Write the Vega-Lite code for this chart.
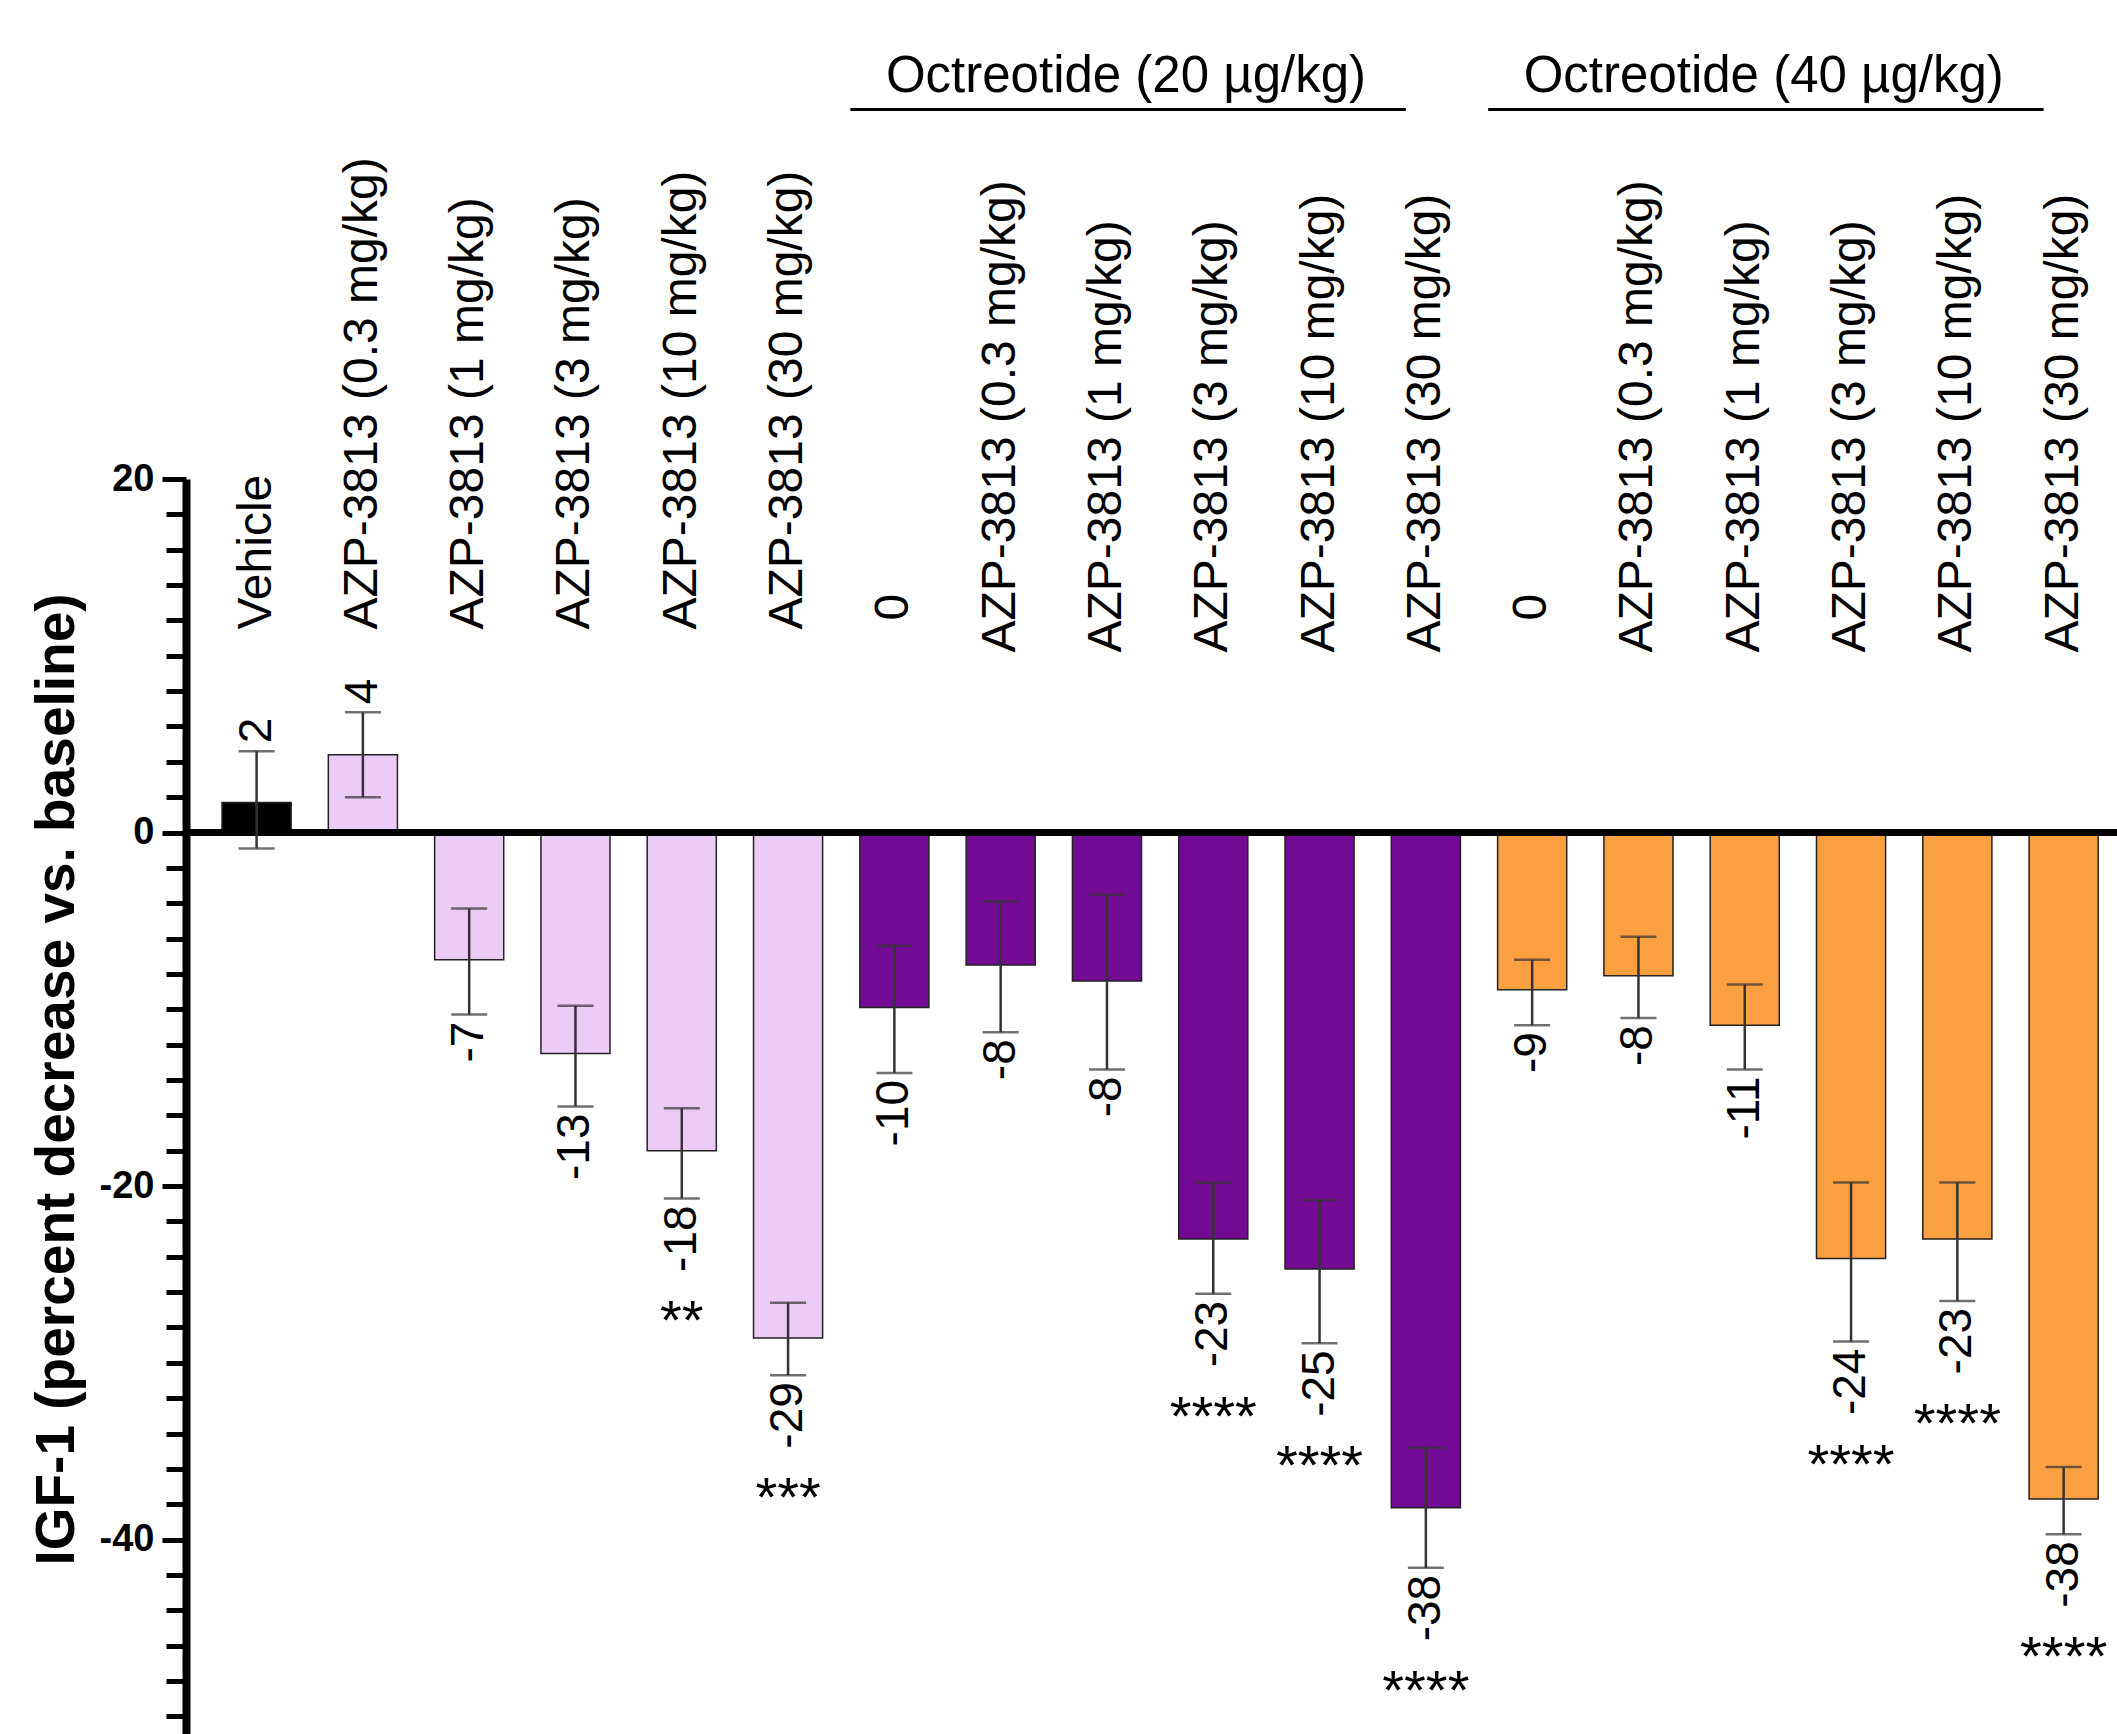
{
  "$schema": "https://vega.github.io/schema/vega-lite/v6.json",
  "autosize": {"type": "none"},
  "padding": {"left": 186, "top": 479, "right": 0, "bottom": 0},
  "width": 1931,
  "height": 1255,
  "background": "white",
  "config": {"view": {"stroke": null}},
  "resolve": {"axis": {"x": "independent", "y": "independent"}},
  "datasets": {
    "bars": [
      {"id": "A|Vehicle", "grp": "veh", "mean": 1.7, "lo": -0.9, "hi": 4.6, "label": "2", "stars": ""},
      {"id": "A|AZP-3813 (0.3 mg/kg)", "grp": "azp", "mean": 4.4, "lo": 2.0, "hi": 6.8, "label": "4", "stars": ""},
      {"id": "A|AZP-3813 (1 mg/kg)", "grp": "azp", "mean": -7.2, "lo": -10.3, "hi": -4.3, "label": "-7", "stars": ""},
      {"id": "A|AZP-3813 (3 mg/kg)", "grp": "azp", "mean": -12.5, "lo": -15.5, "hi": -9.8, "label": "-13", "stars": ""},
      {"id": "A|AZP-3813 (10 mg/kg)", "grp": "azp", "mean": -18.0, "lo": -20.7, "hi": -15.6, "label": "-18", "stars": "**"},
      {"id": "A|AZP-3813 (30 mg/kg)", "grp": "azp", "mean": -28.6, "lo": -30.7, "hi": -26.6, "label": "-29", "stars": "***"},
      {"id": "B|0", "grp": "o20", "mean": -9.9, "lo": -13.6, "hi": -6.4, "label": "-10", "stars": ""},
      {"id": "B|AZP-3813 (0.3 mg/kg)", "grp": "o20", "mean": -7.5, "lo": -11.3, "hi": -3.9, "label": "-8", "stars": ""},
      {"id": "B|AZP-3813 (1 mg/kg)", "grp": "o20", "mean": -8.4, "lo": -13.4, "hi": -3.5, "label": "-8", "stars": ""},
      {"id": "B|AZP-3813 (3 mg/kg)", "grp": "o20", "mean": -23.0, "lo": -26.1, "hi": -19.8, "label": "-23", "stars": "****"},
      {"id": "B|AZP-3813 (10 mg/kg)", "grp": "o20", "mean": -24.7, "lo": -28.9, "hi": -20.8, "label": "-25", "stars": "****"},
      {"id": "B|AZP-3813 (30 mg/kg)", "grp": "o20", "mean": -38.2, "lo": -41.6, "hi": -34.8, "label": "-38", "stars": "****"},
      {"id": "C|0", "grp": "o40", "mean": -8.9, "lo": -10.9, "hi": -7.2, "label": "-9", "stars": ""},
      {"id": "C|AZP-3813 (0.3 mg/kg)", "grp": "o40", "mean": -8.1, "lo": -10.5, "hi": -5.9, "label": "-8", "stars": ""},
      {"id": "C|AZP-3813 (1 mg/kg)", "grp": "o40", "mean": -10.9, "lo": -13.4, "hi": -8.6, "label": "-11", "stars": ""},
      {"id": "C|AZP-3813 (3 mg/kg)", "grp": "o40", "mean": -24.1, "lo": -28.8, "hi": -19.8, "label": "-24", "stars": "****"},
      {"id": "C|AZP-3813 (10 mg/kg)", "grp": "o40", "mean": -23.0, "lo": -26.5, "hi": -19.8, "label": "-23", "stars": "****"},
      {"id": "C|AZP-3813 (30 mg/kg)", "grp": "o40", "mean": -37.7, "lo": -39.7, "hi": -35.9, "label": "-38", "stars": "****"}
    ],
    "headers": [
      {"text": "Octreotide (20 µg/kg)", "from": "B|0", "to": "B|AZP-3813 (30 mg/kg)", "mid": "B|AZP-3813 (1 mg/kg)"},
      {"text": "Octreotide (40 µg/kg)", "from": "C|0", "to": "C|AZP-3813 (30 mg/kg)", "mid": "C|AZP-3813 (1 mg/kg)"}
    ],
    "zero": [{"v": 0}]
  },
  "layer": [
    {
      "data": {"name": "bars"},
      "mark": {"type": "bar", "stroke": "#222222", "strokeWidth": 1.5},
      "encoding": {
        "x": {
          "field": "id", "type": "nominal",
          "scale": {
            "domain": ["A|Vehicle", "A|AZP-3813 (0.3 mg/kg)", "A|AZP-3813 (1 mg/kg)", "A|AZP-3813 (3 mg/kg)", "A|AZP-3813 (10 mg/kg)", "A|AZP-3813 (30 mg/kg)", "B|0", "B|AZP-3813 (0.3 mg/kg)", "B|AZP-3813 (1 mg/kg)", "B|AZP-3813 (3 mg/kg)", "B|AZP-3813 (10 mg/kg)", "B|AZP-3813 (30 mg/kg)", "C|0", "C|AZP-3813 (0.3 mg/kg)", "C|AZP-3813 (1 mg/kg)", "C|AZP-3813 (3 mg/kg)", "C|AZP-3813 (10 mg/kg)", "C|AZP-3813 (30 mg/kg)"],
            "paddingInner": 0.35, "paddingOuter": 0.258, "align": 0.657
          },
          "axis": {
            "orient": "top", "title": null, "domain": false, "ticks": false,
            "offset": -173,
            "labelAngle": -90, "labelAlign": "left", "labelBaseline": "middle",
            "labelFont": "Liberation Sans", "labelFontSize": 48, "labelColor": "black",
            "labelLimit": 2000, "labelOverlap": false,
            "labelExpr": "split(datum.value, '|')[1]",
            "labelPadding": {"condition": [{"test": "indexof(datum.value, 'A|') === 0", "value": 23}, {"test": "datum.value === 'B|0' || datum.value === 'C|0'", "value": 32}], "value": 0}
          }
        },
        "y": {
          "field": "mean", "type": "quantitative",
          "scale": {"domain": [-51, 20], "nice": false, "zero": false},
          "axis": {
            "orient": "left",
            "values": [-40, -20, 0, 20],
            "labelExpr": "'' + datum.value",
            "labelOverlap": false,
            "tickSize": 24,
            "tickWidth": 5, "tickColor": "black",
            "domainWidth": 8, "domainColor": "black",
            "grid": false,
            "labelFont": "Liberation Sans", "labelFontSize": 38, "labelFontWeight": "bold", "labelColor": "black", "labelPadding": 8,
            "title": "IGF-1 (percent decrease vs. baseline)",
            "titleFont": "Liberation Sans", "titleFontSize": 55, "titleFontWeight": "bold", "titleColor": "black",
            "titleAngle": -90, "titleX": -113, "titleY": 600, "titleAlign": "center", "titleBaseline": "alphabetic"
          }
        },
        "y2": {"datum": 0},
        "color": {
          "field": "grp", "type": "nominal", "legend": null,
          "scale": {"domain": ["veh", "azp", "o20", "o40"], "range": ["#000000", "#EDCBF7", "#730A94", "#FBA040"]}
        }
      }
    },
    {
      "data": {"name": "zero"},
      "mark": {"type": "rule", "strokeWidth": 7, "color": "black"},
      "encoding": {
        "y": {
          "field": "v", "type": "quantitative",
          "axis": {
            "orient": "left", "offset": 0, "zindex": 2, "title": null, "labels": false, "domain": false, "grid": false,
            "values": [-50, -48, -46, -44, -42, -38, -36, -34, -32, -30, -28, -26, -24, -22, -18, -16, -14, -12, -10, -8, -6, -4, -2, 2, 4, 6, 8, 10, 12, 14, 16, 18],
            "tickSize": 20, "tickWidth": 5, "tickColor": "black"
          }
        }
      }
    },
    {
      "data": {"name": "bars"},
      "mark": {"type": "rule", "strokeWidth": 2.5, "color": "#333333"},
      "encoding": {
        "x": {"field": "id", "type": "nominal", "axis": null},
        "y": {"field": "lo", "type": "quantitative", "axis": null},
        "y2": {"field": "hi"}
      }
    },
    {
      "data": {"name": "bars"},
      "mark": {"type": "tick", "size": 36, "thickness": 2.5, "color": "#333333"},
      "encoding": {
        "x": {"field": "id", "type": "nominal", "axis": null},
        "y": {"field": "lo", "type": "quantitative", "axis": null}
      }
    },
    {
      "data": {"name": "bars"},
      "mark": {"type": "tick", "size": 36, "thickness": 2.5, "color": "#333333"},
      "encoding": {
        "x": {"field": "id", "type": "nominal", "axis": null},
        "y": {"field": "hi", "type": "quantitative", "axis": null}
      }
    },
    {
      "data": {"name": "bars"},
      "transform": [{"filter": "datum.mean < 0"}],
      "mark": {"type": "text", "angle": 270, "align": "right", "baseline": "middle", "dx": -7, "font": "Liberation Sans", "fontSize": 46, "color": "black"},
      "encoding": {
        "x": {"field": "id", "type": "nominal", "axis": null},
        "y": {"field": "lo", "type": "quantitative", "axis": null},
        "text": {"field": "label"}
      }
    },
    {
      "data": {"name": "bars"},
      "transform": [{"filter": "datum.mean > 0"}],
      "mark": {"type": "text", "angle": 270, "align": "left", "baseline": "middle", "dx": 8, "font": "Liberation Sans", "fontSize": 46, "color": "black"},
      "encoding": {
        "x": {"field": "id", "type": "nominal", "axis": null},
        "y": {"field": "hi", "type": "quantitative", "axis": null},
        "text": {"field": "label"}
      }
    },
    {
      "data": {"name": "bars"},
      "transform": [{"filter": "datum.stars !== ''"}],
      "mark": {"type": "text", "align": "center", "baseline": "alphabetic", "dy": 141, "font": "Liberation Sans", "fontSize": 56, "color": "black"},
      "encoding": {
        "x": {"field": "id", "type": "nominal", "axis": null},
        "y": {"field": "lo", "type": "quantitative", "axis": null},
        "text": {"field": "stars"}
      }
    },
    {
      "data": {"name": "headers"},
      "mark": {"type": "rule", "strokeWidth": 3, "color": "black", "xOffset": -44, "x2Offset": -20},
      "encoding": {
        "x": {"field": "from", "type": "nominal", "axis": null},
        "x2": {"field": "to"},
        "y": {"datum": 40.9, "axis": null}
      }
    },
    {
      "data": {"name": "headers"},
      "mark": {"type": "text", "align": "center", "baseline": "alphabetic", "dx": 19, "font": "Liberation Sans", "fontSize": 51, "color": "black"},
      "encoding": {
        "x": {"field": "mid", "type": "nominal", "axis": null},
        "y": {"datum": 41.9, "axis": null},
        "text": {"field": "text"}
      }
    }
  ]
}
